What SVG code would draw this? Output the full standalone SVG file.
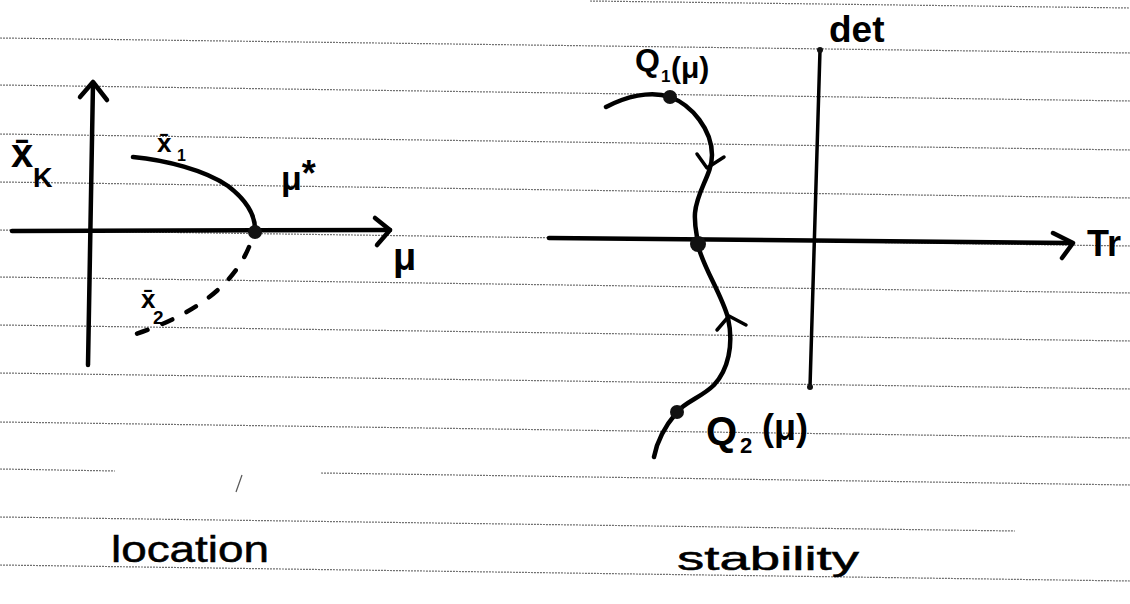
<svg xmlns="http://www.w3.org/2000/svg" width="1130" height="604" viewBox="0 0 1130 604">
<style>
.rule{stroke:#707070;stroke-width:1.2;stroke-dasharray:2 1;fill:none}
.ink{stroke:#000;stroke-width:4.5;fill:none;stroke-linecap:round;stroke-linejoin:round}
.thin{stroke:#000;stroke-width:3.5;fill:none;stroke-linecap:round;stroke-linejoin:round}
.dash{stroke:#000;stroke-width:4.5;fill:none;stroke-linecap:round;stroke-dasharray:11 16}
.lbl{font-family:"Liberation Sans",Arial,sans-serif;fill:#000;font-weight:bold}
.big{font-family:"Liberation Sans",Arial,sans-serif;fill:#000;stroke:#000;stroke-width:0.5}
.dot{fill:#111}
</style>
<rect width="1130" height="604" fill="#fff"/>
<g id="ruled-lines">
<line class="rule" x1="590" y1="1" x2="1130" y2="8"/>
<line class="rule" x1="0" y1="38" x2="1130" y2="53"/>
<line class="rule" x1="0" y1="85" x2="1130" y2="101"/>
<line class="rule" x1="0" y1="134" x2="1130" y2="150"/>
<line class="rule" x1="0" y1="182" x2="1130" y2="198"/>
<line class="rule" x1="0" y1="230" x2="1130" y2="246"/>
<line class="rule" x1="0" y1="277" x2="1130" y2="293"/>
<line class="rule" x1="0" y1="325" x2="1130" y2="341"/>
<line class="rule" x1="0" y1="373" x2="1130" y2="389"/>
<line class="rule" x1="0" y1="422" x2="1130" y2="438"/>
<line class="rule" x1="0" y1="469" x2="115" y2="471"/>
<line class="rule" x1="321" y1="473" x2="1130" y2="485"/>
<line class="rule" x1="0" y1="517" x2="1015" y2="531"/>
<line class="rule" x1="0" y1="565" x2="1130" y2="581"/>
<line x1="236" y1="492" x2="242" y2="475" stroke="#555" stroke-width="1.2"/>
</g>
<g id="connectors">
<path class="ink" d="M93,83 L88,365"/>
<path class="ink" d="M80,97 L93,82 L107,100"/>
<path class="ink" d="M12,231 L390,230"/>
<path class="ink" d="M375,218 L390,230 L377,245"/>
<path class="ink" d="M133,157 C165,160 205,170 228,186 C245,199 256,215 255,232"/>
<path class="dash" d="M249,247 Q225,305 133,335"/>
<path class="ink" d="M549,238 L1072,243"/>
<path class="ink" d="M1053,233 L1073,243 L1062,258"/>
<path class="thin" d="M820,50 L810,387"/>
<circle cx="820" cy="50" r="3" class="dot"/>
<circle cx="810" cy="387" r="3" class="dot"/>
<path class="ink" d="M606,107 C625,97 650,90 670,97 C692,105 712,130 712,155 C712,175 697,190 695,213 C694,228 698,238 698,245 C702,265 722,295 728,318 C734,345 728,370 714,385 C702,397 685,402 677,412 C666,425 657,440 654,457"/>
<path class="thin" d="M697,154 L707,168 L724,157"/>
<path class="thin" d="M717,330 L729,316 L746,325"/>
</g>
<g id="axis-labels-left">
<text class="lbl" x="11" y="167" font-size="40">x̄</text>
<text class="lbl" x="33" y="187" font-size="27">K</text>
<text class="lbl" x="393" y="270" font-size="38">μ</text>
</g>
<g id="node-bifurcation">
<circle cx="255" cy="232" r="7" class="dot"/>
<text class="lbl" x="281" y="190" font-size="34">μ<tspan font-size="36" dy="-4">*</tspan></text>
</g>
<g id="node-x1">
<text class="lbl" x="157" y="152" font-size="26">x̄</text>
<text class="lbl" x="177" y="161" font-size="16">1</text>
</g>
<g id="node-x2">
<text class="lbl" x="141" y="308" font-size="26">x̄</text>
<text class="lbl" x="153" y="324" font-size="19">2</text>
</g>
<g id="axis-labels-right">
<text class="lbl" x="829" y="42" font-size="37">det</text>
<text class="lbl" x="1087" y="256" font-size="36">Tr</text>
</g>
<g id="node-Q1">
<circle cx="670" cy="97" r="7" class="dot"/>
<text class="lbl" x="635" y="71" font-size="32">Q</text>
<text class="lbl" x="661" y="82" font-size="17">1</text>
<text class="lbl" x="671" y="78" font-size="30">(μ)</text>
</g>
<g id="node-center">
<circle cx="698" cy="244" r="8" class="dot"/>
</g>
<g id="node-Q2">
<circle cx="677" cy="412" r="7" class="dot"/>
<text class="lbl" x="706" y="445" font-size="40">Q</text>
<text class="lbl" x="740" y="453" font-size="22">2</text>
<text class="lbl" x="762" y="440" font-size="36">(μ)</text>
</g>
<g id="captions">
<text class="big" x="111" y="562" font-size="37" textLength="158" lengthAdjust="spacingAndGlyphs">location</text>
<text class="big" x="677" y="570" font-size="34" textLength="182" lengthAdjust="spacingAndGlyphs">stability</text>
</g>
</svg>
